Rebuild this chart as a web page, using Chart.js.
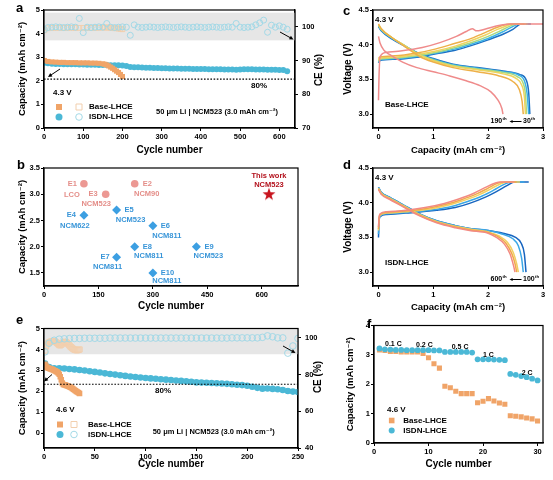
<!DOCTYPE html>
<html>
<head>
<meta charset="utf-8">
<script src="https://cdn.jsdelivr.net/npm/chart.js@4.4.1/dist/chart.umd.min.js"></script>
<style>
  html, body { margin: 0; padding: 0; background: #fff; }
  body { width: 553px; height: 480px; position: relative; overflow: hidden; }
  canvas { position: absolute; }
  .pl { position: absolute; font: bold 13px "Liberation Sans", Arial, sans-serif; line-height: 13px; }
</style>
</head>
<body>
<canvas id="pa" width="335" height="160" style="left:0;top:0;width:335px;height:160px"></canvas>
<canvas id="pc" width="218" height="160" style="left:335px;top:0;width:218px;height:160px"></canvas>
<canvas id="pb" width="335" height="160" style="left:0;top:160px;width:335px;height:160px"></canvas>
<canvas id="pd" width="218" height="160" style="left:335px;top:160px;width:218px;height:160px"></canvas>
<canvas id="pe" width="335" height="160" style="left:0;top:320px;width:335px;height:160px"></canvas>
<canvas id="pf" width="218" height="160" style="left:335px;top:320px;width:218px;height:160px"></canvas>
<div class="pl" style="left:16px;top:1px">a</div>
<div class="pl" style="left:17px;top:158px">b</div>
<div class="pl" style="left:343px;top:4px">c</div>
<div class="pl" style="left:343px;top:158px">d</div>
<div class="pl" style="left:16px;top:313px">e</div>
<div class="pl" style="left:367px;top:317px">f</div>
<script>
// ---- panel a : 4.3 V long cycling ----
const aCycIsdn = [1,10,20,30,40,50,60,70,80,90,100,110,120,130,140,150,160,170,180,190,200,210,220,230,240,250,260,270,280,290,300,310,320,330,340,350,360,370,380,390,400,410,420,430,440,450,460,470,480,490,500,510,520,530,540,550,560,570,580,590,600,610,620];
const aCapIsdn = [2.76,2.74,2.72,2.71,2.71,2.70,2.70,2.70,2.70,2.69,2.69,2.68,2.68,2.68,2.67,2.67,2.67,2.66,2.66,2.66,2.65,2.63,2.58,2.57,2.57,2.56,2.55,2.55,2.54,2.54,2.53,2.53,2.52,2.52,2.52,2.51,2.51,2.51,2.50,2.50,2.50,2.50,2.49,2.49,2.49,2.49,2.48,2.48,2.48,2.47,2.48,2.49,2.49,2.49,2.48,2.48,2.48,2.47,2.47,2.47,2.46,2.46,2.40];
const aCeIsdn = [99.2,99.8,99.9,100.0,99.9,99.8,99.9,100.0,99.9,102.5,98.3,99.9,99.8,99.9,100.0,99.9,101.0,99.9,99.8,99.9,100.0,99.9,97.5,100.6,99.9,99.8,99.9,100.0,99.9,99.8,99.9,100.0,99.9,99.8,99.9,100.0,99.9,99.8,99.9,100.0,99.9,99.8,99.9,100.0,99.9,99.8,99.9,100.0,99.9,101.0,99.9,99.8,99.9,100.0,100.6,101.2,102.0,98.4,100.5,99.9,100.3,99.9,99.3];
const aCycBase = [1,10,20,30,40,50,60,70,80,90,100,110,120,130,140,150,155,160,165,170,175,180,185,190,195,200];
const aCapBase = [2.86,2.82,2.80,2.79,2.78,2.78,2.77,2.77,2.77,2.76,2.76,2.76,2.75,2.75,2.74,2.72,2.70,2.67,2.63,2.58,2.53,2.47,2.41,2.35,2.27,2.18];
const aCeBase = [99.0,99.6,99.7,99.7,99.7,99.7,99.7,99.7,99.7,99.7,99.7,99.7,99.7,99.7,99.7,99.8,99.8,99.8,99.8,99.7,99.7,99.6,99.6,99.5,99.4,99.3];
const aCeBand = [96, 104.2];
const aLine80 = 2.07;

// ---- panel b : literature comparison ----
const bRefNames = ['E1','E2','E3','E4','E5','E6','E7','E8','E9','E10'];
const bRefCathodes = ['LCO','NCM90','NCM523','NCM622','NCM523','NCM811','NCM811','NCM811','NCM523','NCM811'];
const bRefCycles = [110,250,170,110,200,300,200,250,420,300];
const bRefCaps = [3.2,3.2,3.0,2.6,2.7,2.4,1.8,2.0,2.0,1.5];
const bThisCycles = [620];
const bThisCaps = [3.0];

// ---- panel c : Base-LHCE voltage profiles (30th ... 190th), [capacity, voltage] ----
const c1Chg = [[0,3.74],[0.02,3.77],[0.3,3.79],[0.7,3.82],[1.05,3.87],[1.4,3.92],[1.66,3.98],[2.0,4.07],[2.27,4.15],[2.45,4.22],[2.6,4.3],[2.78,4.3]];
const c1Dis = [[0,4.26],[0.05,4.2],[0.25,4.08],[0.45,3.99],[0.75,3.87],[1.0,3.8],[1.36,3.72],[1.8,3.67],[2.27,3.62],[2.58,3.57],[2.7,3.48],[2.74,3.3],[2.76,3.0]];
const c2Chg = [[0,3.75],[0.02,3.78],[0.3,3.8],[0.7,3.83],[1.05,3.88],[1.4,3.94],[1.66,4.0],[2.0,4.09],[2.25,4.18],[2.42,4.25],[2.56,4.3],[2.75,4.3]];
const c2Dis = [[0,4.27],[0.05,4.21],[0.25,4.09],[0.45,4.0],[0.75,3.86],[1.0,3.79],[1.36,3.71],[1.8,3.66],[2.27,3.61],[2.56,3.56],[2.67,3.46],[2.71,3.3],[2.74,3.0]];
const c3Chg = [[0,3.76],[0.02,3.79],[0.3,3.81],[0.7,3.84],[1.05,3.89],[1.4,3.96],[1.66,4.02],[2.0,4.12],[2.22,4.2],[2.38,4.26],[2.52,4.3],[2.72,4.3]];
const c3Dis = [[0,4.28],[0.05,4.22],[0.25,4.1],[0.45,4.0],[0.75,3.86],[1.0,3.78],[1.36,3.7],[1.8,3.65],[2.27,3.6],[2.53,3.54],[2.64,3.44],[2.68,3.28],[2.7,3.0]];
const c4Chg = [[0,3.78],[0.02,3.8],[0.3,3.82],[0.7,3.86],[1.05,3.91],[1.4,3.98],[1.66,4.05],[1.95,4.14],[2.17,4.22],[2.33,4.27],[2.46,4.3],[2.69,4.3]];
const c4Dis = [[0,4.29],[0.05,4.23],[0.25,4.1],[0.45,4.0],[0.75,3.85],[1.0,3.77],[1.36,3.69],[1.8,3.64],[2.27,3.58],[2.5,3.52],[2.61,3.42],[2.66,3.25],[2.68,3.0]];
const c5Chg = [[0,3.8],[0.02,3.82],[0.3,3.84],[0.7,3.88],[1.05,3.94],[1.4,4.02],[1.66,4.08],[1.9,4.16],[2.1,4.23],[2.27,4.28],[2.4,4.3],[2.66,4.3]];
const c5Dis = [[0,4.3],[0.05,4.23],[0.25,4.1],[0.45,3.99],[0.75,3.83],[1.0,3.75],[1.36,3.67],[1.8,3.61],[2.2,3.55],[2.45,3.47],[2.57,3.35],[2.62,3.18],[2.64,3.0]];
const c6Chg = [[0,3.2],[0.01,3.55],[0.03,3.83],[0.14,3.89],[0.4,3.91],[0.8,3.96],[1.12,4.03],[1.42,4.12],[1.6,4.19],[1.71,4.23],[1.79,4.2],[2.1,4.26],[2.4,4.3],[3.0,4.3]];
const c6Dis = [[0,4.12],[0.03,4.02],[0.1,3.92],[0.2,3.86],[0.44,3.75],[0.7,3.67],[1.0,3.61],[1.3,3.55],[1.6,3.48],[1.85,3.41],[2.05,3.32],[2.18,3.2],[2.25,3.08],[2.27,3.0]];

// ---- panel d : ISDN-LHCE voltage profiles (100th ... 600th) ----
const d1Chg = [[0,3.5],[0.01,3.72],[0.03,3.8],[0.15,3.83],[0.5,3.85],[1.06,3.89],[1.4,3.93],[1.66,3.99],[1.95,4.08],[2.15,4.16],[2.35,4.25],[2.48,4.3],[2.74,4.3]];
const d1Dis = [[0,4.22],[0.05,4.15],[0.2,4.08],[0.45,3.97],[0.75,3.84],[1.06,3.74],[1.4,3.67],[1.66,3.63],[2.0,3.6],[2.27,3.56],[2.5,3.5],[2.6,3.42],[2.66,3.26],[2.69,3.0]];
const d2Chg = [[0,3.55],[0.01,3.74],[0.03,3.81],[0.15,3.84],[0.5,3.86],[1.0,3.9],[1.35,3.95],[1.6,4.01],[1.9,4.1],[2.1,4.18],[2.28,4.26],[2.42,4.3],[2.66,4.3]];
const d2Dis = [[0,4.22],[0.05,4.15],[0.2,4.08],[0.45,3.97],[0.75,3.84],[1.06,3.74],[1.4,3.67],[1.66,3.63],[2.0,3.6],[2.25,3.55],[2.45,3.48],[2.55,3.38],[2.61,3.2],[2.64,3.0]];
const d3Chg = [[0,3.6],[0.01,3.76],[0.03,3.82],[0.15,3.85],[0.5,3.87],[0.95,3.91],[1.3,3.97],[1.55,4.03],[1.85,4.12],[2.05,4.2],[2.22,4.27],[2.34,4.3],[2.58,4.3]];
const d3Dis = [[0,4.21],[0.05,4.14],[0.2,4.07],[0.45,3.96],[0.75,3.83],[1.06,3.73],[1.4,3.66],[1.66,3.62],[2.0,3.58],[2.2,3.52],[2.35,3.43],[2.46,3.28],[2.52,3.12],[2.55,3.0]];
const d4Chg = [[0,3.62],[0.01,3.77],[0.03,3.83],[0.15,3.86],[0.5,3.88],[0.9,3.92],[1.25,3.98],[1.5,4.04],[1.8,4.13],[2.0,4.21],[2.17,4.28],[2.28,4.3],[2.52,4.3]];
const d4Dis = [[0,4.2],[0.05,4.13],[0.2,4.06],[0.45,3.95],[0.75,3.82],[1.06,3.72],[1.4,3.65],[1.66,3.61],[2.0,3.57],[2.18,3.51],[2.32,3.42],[2.43,3.27],[2.49,3.12],[2.52,3.0]];
const d5Chg = [[0,3.65],[0.01,3.78],[0.03,3.84],[0.15,3.87],[0.5,3.89],[0.85,3.93],[1.2,3.99],[1.45,4.05],[1.75,4.14],[1.95,4.22],[2.12,4.28],[2.22,4.3],[2.48,4.3]];
const d5Dis = [[0,4.19],[0.05,4.12],[0.2,4.05],[0.45,3.94],[0.75,3.81],[1.06,3.71],[1.4,3.64],[1.66,3.6],[2.0,3.56],[2.15,3.5],[2.3,3.4],[2.4,3.26],[2.46,3.1],[2.49,3.0]];

// ---- panel e : 4.6 V cycling ----
const eCycIsdn = [1,5,10,15,20,25,30,35,40,45,50,55,60,65,70,75,80,85,90,95,100,105,110,115,120,125,130,135,140,145,150,155,160,165,170,175,180,185,190,195,200,205,210,215,220,225,230,235,240,245,250];
const eCapIsdn = [3.33,3.16,3.10,3.10,3.09,3.07,3.05,3.02,3.00,2.96,2.93,2.90,2.86,2.83,2.80,2.77,2.74,2.71,2.69,2.66,2.64,2.62,2.60,2.58,2.56,2.54,2.52,2.50,2.48,2.46,2.43,2.42,2.41,2.40,2.39,2.38,2.36,2.34,2.32,2.30,2.27,2.22,2.17,2.13,2.14,2.12,2.10,2.07,2.02,1.99,1.97];
const eCeIsdn = [92.3,97.0,98.6,99.2,99.4,99.5,99.6,99.6,99.7,99.7,99.7,99.7,99.7,99.8,99.8,99.8,99.8,99.8,99.8,99.8,99.8,99.8,99.8,99.8,99.8,99.8,99.8,99.8,99.8,99.8,99.8,99.8,99.8,99.8,99.8,99.8,99.8,99.9,99.9,99.9,99.9,99.9,99.9,100.2,101.0,100.5,99.9,99.9,91.6,95.5,99.6];
const eCycBase = [1,2,3,4,5,6,7,8,9,10,11,12,13,14,15,16,17,18,19,20,21,22,23,24,25,26,27,28,29,30,31,32,33,34,35];
const eCapBase = [3.30,3.20,3.15,3.12,3.10,3.08,3.07,3.05,3.03,3.00,2.98,2.95,2.92,2.88,2.82,2.70,2.55,2.40,2.33,2.32,2.30,2.28,2.27,2.25,2.22,2.20,2.17,2.14,2.10,2.07,2.03,2.00,1.97,1.93,1.90];
const eCeBase = [93.0,95.2,96.4,97.0,97.4,97.7,97.9,98.0,98.1,98.0,97.8,97.5,97.0,96.5,96.0,95.8,96.2,96.8,97.3,97.6,97.8,97.5,97.0,96.4,95.8,95.2,94.7,94.2,93.8,93.5,93.3,93.2,93.2,93.4,93.6];
const eCeBand = [91, 105];
const eLine80 = 2.34;

// ---- panel f : rate test ----
const fCycles = [1,2,3,4,5,6,7,8,9,10,11,12,13,14,15,16,17,18,19,20,21,22,23,24,25,26,27,28,29,30];
const fCapBase = [3.17,3.15,3.12,3.12,3.10,3.10,3.10,3.10,3.05,2.90,2.70,2.55,1.93,1.88,1.76,1.68,1.68,1.68,1.37,1.42,1.51,1.43,1.36,1.32,0.93,0.91,0.89,0.85,0.82,0.75];
const fCapIsdn = [3.22,3.19,3.18,3.17,3.17,3.16,3.16,3.16,3.16,3.16,3.15,3.15,3.10,3.10,3.10,3.10,3.10,3.08,2.85,2.85,2.85,2.84,2.83,2.82,2.35,2.32,2.28,2.24,2.19,2.13];
const fRates = ['0.1 C','0.2 C','0.5 C','1 C','2 C'];

const FONT = '"Liberation Sans", Arial, "DejaVu Sans", sans-serif';
const ORANGE = '#f0a468', ORANGE_LT = '#f2cfae', CYAN = '#4bb8d6', CYAN_LT = '#a3d9e6', BAND = '#e6e6e6';
const NOTE = '50 \u03bcm Li | NCM523 (3.0 mAh cm\u207b\u00b2)';
const CAP_TITLE = 'Capacity (mAh cm\u207b\u00b2)';

Chart.defaults.font.family = FONT;
Chart.defaults.font.weight = 'bold';
Chart.defaults.color = '#000';
Chart.defaults.animation = false;
Chart.defaults.events = [];
Chart.defaults.plugins.legend.display = false;
Chart.defaults.plugins.tooltip.enabled = false;

const zip = (xs, ys) => xs.map((x, i) => ({x, y: ys[i]}));
const pairs = arr => arr.map(p => ({x: p[0], y: p[1]}));

function axis(o) {
  return {
    type: 'linear', position: o.pos, min: o.min, max: o.max,
    afterFit: s => { if (s.isHorizontal()) s.height = o.size; else s.width = o.size; },
    border: {display: true, color: '#000', width: 1.2},
    grid: {drawOnChartArea: false, drawTicks: true, tickLength: 3, color: '#000'},
    ticks: {stepSize: o.step, includeBounds: false, autoSkip: false, maxRotation: 0,
      padding: o.tpad == null ? 1 : o.tpad, font: {size: 7.5, weight: 'bold'}, color: '#000',
      callback: o.fmt || (v => String(v))},
    title: o.title ? {display: true, text: o.title, color: '#000',
      font: {size: o.tsize || 10, weight: 'bold'}, padding: {top: o.tp || 0, bottom: o.tp || 0}} : {display: false}
  };
}
const fix1 = v => v.toFixed(1);

function text(ctx, s, x, y, sz, color, align) {
  ctx.font = `bold ${sz}px ${FONT}`;
  ctx.fillStyle = color || '#000';
  ctx.textAlign = align || 'left';
  ctx.textBaseline = 'middle';
  ctx.fillText(s, x, y);
}
function supText(ctx, base, sup, x, y, sz) {
  ctx.font = `bold ${sz}px ${FONT}`;
  const w = ctx.measureText(base).width;
  text(ctx, base, x, y, sz);
  text(ctx, sup, x + w + 0.3, y - sz * 0.4, sz * 0.62);
}
function arrow(ctx, x1, y1, x2, y2, head) {
  const a = Math.atan2(y2 - y1, x2 - x1);
  ctx.strokeStyle = '#000'; ctx.fillStyle = '#000'; ctx.lineWidth = 1; ctx.setLineDash([]);
  ctx.beginPath(); ctx.moveTo(x1, y1); ctx.lineTo(x2 - Math.cos(a) * head * 0.7, y2 - Math.sin(a) * head * 0.7); ctx.stroke();
  ctx.beginPath(); ctx.moveTo(x2, y2);
  ctx.lineTo(x2 - head * Math.cos(a - 0.45), y2 - head * Math.sin(a - 0.45));
  ctx.lineTo(x2 - head * Math.cos(a + 0.45), y2 - head * Math.sin(a + 0.45));
  ctx.closePath(); ctx.fill();
}
function marker(ctx, kind, x, y, r, fill, stroke) {
  ctx.beginPath();
  if (kind === 'rect') ctx.rect(x - r, y - r, 2 * r, 2 * r); else ctx.arc(x, y, r, 0, Math.PI * 2);
  if (fill) { ctx.fillStyle = fill; ctx.fill(); }
  if (stroke) { ctx.strokeStyle = stroke; ctx.lineWidth = 1; ctx.stroke(); }
}
function frame(ch) {
  const {ctx, chartArea: a} = ch;
  ctx.save(); ctx.strokeStyle = '#000'; ctx.lineWidth = 1.2;
  ctx.strokeRect(a.left, a.top, a.width, a.height); ctx.restore();
}
function dotted(ctx, ca, y) {
  ctx.save(); ctx.setLineDash([1.6, 1.6]); ctx.strokeStyle = '#000'; ctx.lineWidth = 1.1;
  ctx.beginPath(); ctx.moveTo(ca.left, y); ctx.lineTo(ca.right, y); ctx.stroke(); ctx.restore();
}
function rightTitle(ch, s, x, y) {
  const ctx = ch.ctx;
  ctx.save(); ctx.translate(x, y); ctx.rotate(-Math.PI / 2);
  text(ctx, s, 0, 0, 10, '#000', 'center'); ctx.restore();
}
function cycLegend(ctx, xf, xh, xt, y1, y2, sz) {
  marker(ctx, 'rect', xf, y1, 3, ORANGE);
  marker(ctx, 'rect', xh, y1, 3, null, ORANGE_LT);
  marker(ctx, 'circle', xf, y2, 3.5, CYAN);
  marker(ctx, 'circle', xh, y2, 3.3, null, CYAN_LT);
  text(ctx, 'Base-LHCE', xt, y1, sz);
  text(ctx, 'ISDN-LHCE', xt, y2, sz);
}
function band(ch, vals) {
  const {ctx, chartArea: ca, scales} = ch;
  const t = scales.y2.getPixelForValue(vals[1]), b = scales.y2.getPixelForValue(vals[0]);
  ctx.save(); ctx.fillStyle = BAND; ctx.fillRect(ca.left, t, ca.width, b - t); ctx.restore();
}
function cycleSets(cycI, capI, ceI, cycB, capB, ceB, r) {
  return [
    {data: zip(cycB, capB), pointStyle: 'rect', pointRadius: r + 0.6, backgroundColor: ORANGE, borderWidth: 0, order: 0},
    {data: zip(cycI, capI), pointStyle: 'circle', pointRadius: r, backgroundColor: CYAN, borderWidth: 0, order: 1},
    {data: zip(cycI, ceI), yAxisID: 'y2', pointStyle: 'circle', pointRadius: r, backgroundColor: 'rgba(0,0,0,0)', borderColor: CYAN_LT, borderWidth: 1, order: 2},
    {data: zip(cycB, ceB), yAxisID: 'y2', pointStyle: 'rect', pointRadius: r + 0.4, backgroundColor: 'rgba(0,0,0,0)', borderColor: ORANGE_LT, borderWidth: 1, order: 3}
  ];
}

// panel a
new Chart(document.getElementById('pa'), {
  type: 'scatter',
  data: {datasets: cycleSets(aCycIsdn, aCapIsdn, aCeIsdn, aCycBase, aCapBase, aCeBase, 3)},
  options: {
    responsive: false, layout: {padding: {top: 10}},
    scales: {
      x: axis({pos: 'bottom', min: 0, max: 640, step: 100, size: 32, title: 'Cycle number', tp: 3.7}),
      y: axis({pos: 'left', min: 0, max: 5, step: 1, size: 44, title: CAP_TITLE, tsize: 9.5, tp: 17}),
      y2: axis({pos: 'right', min: 70, max: 105, step: 10, size: 40, tpad: 4})
    }
  },
  plugins: [{
    id: 'aDeco',
    beforeDatasetsDraw(ch) { band(ch, aCeBand); },
    afterDatasetsDraw(ch) {
      const {ctx, chartArea: ca, scales} = ch;
      ctx.save();
      dotted(ctx, ca, scales.y.getPixelForValue(aLine80));
      text(ctx, '80%', ca.left + 215, ca.top + 76, 8, '#000', 'center');
      text(ctx, '4.3 V', ca.left + 9, ca.top + 83, 8);
      cycLegend(ctx, ca.left + 15, ca.left + 35, ca.left + 45, ca.top + 97, ca.top + 107, 8);
      text(ctx, NOTE, ca.left + 112, ca.top + 102, 7.5);
      arrow(ctx, ca.left + 16, ca.top + 59, ca.left + 4, ca.top + 67, 4.5);
      arrow(ctx, ca.left + 236, ca.top + 22, ca.left + 249.5, ca.top + 29.5, 4.5);
      ctx.restore();
    },
    afterDraw(ch) { frame(ch); rightTitle(ch, 'CE (%)', 319, 70); }
  }]
});

// panel b
const star = document.createElement('canvas');
star.width = star.height = 14;
(function () {
  const s = star.getContext('2d');
  s.beginPath();
  for (let i = 0; i < 10; i++) {
    const r = i % 2 ? 2.7 : 6.8, a = -Math.PI / 2 + i * Math.PI / 5;
    s.lineTo(7 + r * Math.cos(a), 7.3 + r * Math.sin(a));
  }
  s.closePath(); s.fillStyle = '#c8141e'; s.fill();
})();
// [name dx, cathode dx, cathode dy] relative to the marker, in px
const bLabelLayout = {
  E1: [-7, -12, 11.5], E2: [8, 12, 10], E3: [-8, -9.5, 10], E4: [-8, -9, 11], E5: [8, 14, 10],
  E6: [8, 14, 10], E7: [-7, -9, 10], E8: [8, 14, 9.7], E9: [8, 12, 9.7], E10: [8, 14, 8]
};
const PINK = '#ec9893', PINK_TXT = '#e48e89', BLUE = '#3c9fe2', BLUE_TXT = '#3895d8';
new Chart(document.getElementById('pb'), {
  type: 'scatter',
  data: {datasets: [
    {data: zip(bRefCycles.slice(0, 3), bRefCaps.slice(0, 3)), pointStyle: 'circle', pointRadius: 3.8, backgroundColor: PINK, borderWidth: 0},
    {data: zip(bRefCycles.slice(3), bRefCaps.slice(3)), pointStyle: 'rectRot', pointRadius: 4.5, backgroundColor: BLUE, borderWidth: 0},
    {data: zip(bThisCycles, bThisCaps), pointStyle: star, pointRadius: 7}
  ]},
  options: {
    responsive: false, layout: {padding: {top: 8, right: 37}},
    scales: {
      x: axis({pos: 'bottom', min: 0, max: 700, step: 150, size: 34, title: 'Cycle number', tp: 8}),
      y: axis({pos: 'left', min: 1.25, max: 3.5, step: 0.5, size: 44, title: CAP_TITLE, tsize: 9.5, tp: 16.3, fmt: fix1})
    }
  },
  plugins: [{
    id: 'bDeco',
    afterDatasetsDraw(ch) {
      const ctx = ch.ctx;
      ctx.save();
      [0, 1].forEach(di => {
        const off = di === 0 ? 0 : 3, col = di === 0 ? PINK_TXT : BLUE_TXT;
        ch.getDatasetMeta(di).data.forEach((pt, i) => {
          const name = bRefNames[off + i], L = bLabelLayout[name];
          text(ctx, name, pt.x + L[0], pt.y, 7.5, col, L[0] < 0 ? 'right' : 'left');
          text(ctx, bRefCathodes[off + i], pt.x + L[1], pt.y + L[2], 7.5, col, 'center');
        });
      });
      const s = ch.getDatasetMeta(2).data[0];
      text(ctx, 'This work', s.x, s.y - 18.3, 7.5, '#b3111c', 'center');
      text(ctx, 'NCM523', s.x, s.y - 9.3, 7.5, '#b3111c', 'center');
      ctx.restore();
    },
    afterDraw(ch) { frame(ch); }
  }]
});

// panels c and d: voltage profiles
function profileChart(id, curves, colors, label, tags, tp) {
  const ds = [];
  curves.forEach((c, i) => {
    [c[0], c[1]].forEach(arr => ds.push({data: pairs(arr), showLine: true, pointRadius: 0, borderColor: colors[i],
      borderWidth: 1.5, cubicInterpolationMode: 'monotone', order: -i}));
  });
  return new Chart(document.getElementById(id), {
    type: 'scatter',
    data: {datasets: ds},
    options: {
      responsive: false, layout: {padding: {top: tp.top, right: 10}},
      scales: {
        x: axis({pos: 'bottom', min: -0.1, max: 3, step: 1, size: tp.xs, title: CAP_TITLE, tsize: 9.5, tp: tp.xt}),
        y: axis({pos: 'left', min: 2.8, max: 4.5, step: 0.5, size: 38, title: 'Voltage (V)', tp: 7.3, fmt: fix1})
      }
    },
    plugins: [{
      id: id + 'Deco',
      afterDatasetsDraw(ch) {
        const {ctx, chartArea: ca} = ch;
        ctx.save();
        text(ctx, '4.3 V', ca.left + 2, ca.top + 10, 8);
        text(ctx, label, ca.left + 12, ca.top + 95, 8);
        const y = ca.bottom - 6.5;
        supText(ctx, tags[0], 'th', ca.left + 117.5, y, 7);
        arrow(ctx, ca.left + 148.5, y, ca.left + 136.5, y, 3.5);
        supText(ctx, tags[1], 'th', ca.left + 150, y, 7);
        ctx.restore();
      },
      afterDraw(ch) { frame(ch); }
    }]
  });
}
profileChart('pc', [[c1Chg, c1Dis], [c2Chg, c2Dis], [c3Chg, c3Dis], [c4Chg, c4Dis], [c5Chg, c5Dis], [c6Chg, c6Dis]],
  ['#1b6ec3', '#3cb3e6', '#a9d882', '#eed45f', '#eeb048', '#ef8b8b'], 'Base-LHCE', ['190', '30'], {top: 10, xs: 32, xt: 4.3});
profileChart('pd', [[d1Chg, d1Dis], [d2Chg, d2Dis], [d3Chg, d3Dis], [d4Chg, d4Dis], [d5Chg, d5Dis]],
  ['#1765c0', '#3ba7e6', '#f0d062', '#f2a84a', '#f28a82'], 'ISDN-LHCE', ['600', '100'], {top: 8, xs: 34, xt: 7});

// panel e
new Chart(document.getElementById('pe'), {
  type: 'scatter',
  data: {datasets: cycleSets(eCycIsdn, eCapIsdn, eCeIsdn, eCycBase, eCapBase, eCeBase, 3.3)},
  options: {
    responsive: false, layout: {padding: {top: 4}},
    scales: {
      x: axis({pos: 'bottom', min: 0, max: 250, step: 50, size: 32, title: 'Cycle number', tp: 10}),
      y: axis({pos: 'left', min: -0.7, max: 5, step: 1, size: 44, title: CAP_TITLE, tsize: 9.5, tp: 16.3}),
      y2: axis({pos: 'right', min: 40, max: 105, step: 20, size: 37, tpad: 4})
    }
  },
  plugins: [{
    id: 'eDeco',
    beforeDatasetsDraw(ch) { band(ch, eCeBand); },
    afterDatasetsDraw(ch) {
      const {ctx, chartArea: ca, scales} = ch;
      ctx.save();
      dotted(ctx, ca, scales.y.getPixelForValue(eLine80));
      text(ctx, '80%', ca.left + 119, ca.top + 62.7, 8, '#000', 'center');
      text(ctx, '4.6 V', ca.left + 12, ca.top + 81, 8);
      cycLegend(ctx, ca.left + 16, ca.left + 30, ca.left + 44, ca.top + 96, ca.top + 106, 8);
      text(ctx, NOTE, ca.left + 108.7, ca.top + 103.3, 7.5);
      arrow(ctx, ca.left + 8, ca.top + 46, ca.left, ca.top + 53, 4.5);
      arrow(ctx, ca.left + 239, ca.top + 17.5, ca.left + 251.5, ca.top + 24.5, 4.5);
      ctx.restore();
    },
    afterDraw(ch) { frame(ch); rightTitle(ch, 'CE (%)', 318, 57); }
  }]
});

// panel f
const fRateLayout = [[11, 18.7], [42, 20], [77.7, 22], [109, 29.3], [147.7, 47.7]];
new Chart(document.getElementById('pf'), {
  type: 'scatter',
  data: {datasets: [
    {data: zip(fCycles, fCapIsdn), pointStyle: 'circle', pointRadius: 2.9, backgroundColor: CYAN, borderWidth: 0},
    {data: zip(fCycles, fCapBase), pointStyle: 'rect', pointRadius: 3.6, backgroundColor: ORANGE, borderWidth: 0}
  ]},
  options: {
    responsive: false, layout: {padding: {top: 4, right: 10}},
    scales: {
      x: axis({pos: 'bottom', min: 0, max: 31, step: 10, size: 37, title: 'Cycle number', tp: 9.3}),
      y: axis({pos: 'left', min: 0, max: 4, step: 1, size: 39, title: CAP_TITLE, tsize: 9.5, tp: 9.3})
    }
  },
  plugins: [{
    id: 'fDeco',
    afterDatasetsDraw(ch) {
      const {ctx, chartArea: ca} = ch;
      ctx.save();
      fRates.forEach((r, i) => text(ctx, r, ca.left + fRateLayout[i][0], ca.top + fRateLayout[i][1], 7));
      text(ctx, '4.6 V', ca.left + 13, ca.top + 84.3, 8);
      marker(ctx, 'rect', ca.left + 17.7, ca.top + 95, 2.8, ORANGE);
      marker(ctx, 'circle', ca.left + 17.7, ca.top + 105, 3, CYAN);
      text(ctx, 'Base-LHCE', ca.left + 29.3, ca.top + 95, 8);
      text(ctx, 'ISDN-LHCE', ca.left + 29.3, ca.top + 105, 8);
      ctx.restore();
    },
    afterDraw(ch) { frame(ch); }
  }]
});
</script>
</body>
</html>
